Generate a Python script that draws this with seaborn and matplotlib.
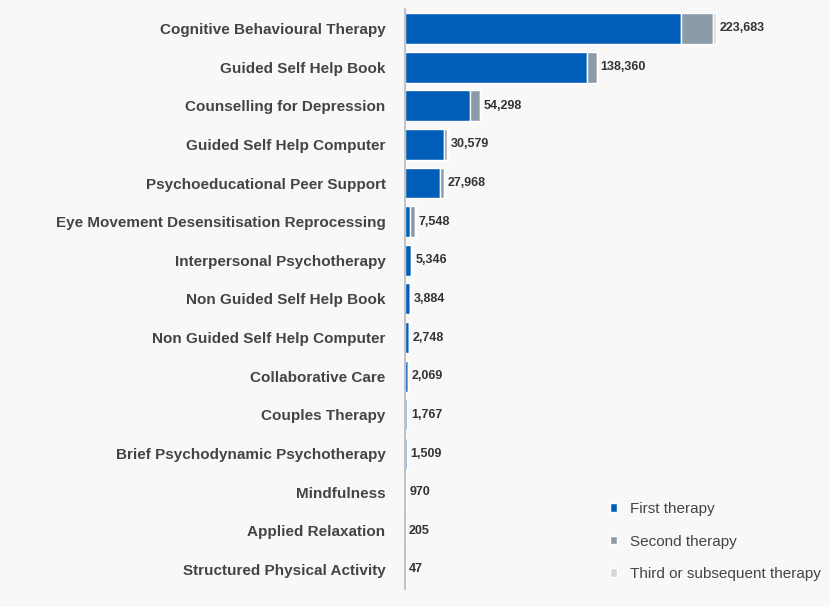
import matplotlib
matplotlib.use("Agg")
import matplotlib.pyplot as plt
import seaborn as sns
import numpy as np

therapies = [
    "Cognitive Behavioural Therapy", "Guided Self Help Book", "Counselling for Depression",
    "Guided Self Help Computer", "Psychoeducational Peer Support",
    "Eye Movement Desensitisation Reprocessing", "Interpersonal Psychotherapy",
    "Non Guided Self Help Book", "Non Guided Self Help Computer", "Collaborative Care",
    "Couples Therapy", "Brief Psychodynamic Psychotherapy", "Mindfulness",
    "Applied Relaxation", "Structured Physical Activity",
]
first = [198900, 131100, 46600, 28400, 25500, 3800, 4300, 3700, 2600, 2000, 1700, 1450, 900, 190, 44]
second = [22600, 7000, 7500, 2100, 2400, 3650, 1000, 170, 140, 60, 60, 55, 65, 14, 3]
totals = [223683, 138360, 54298, 30579, 27968, 7548, 5346, 3884, 2748, 2069, 1767, 1509, 970, 205, 47]
third = [t - a - b for t, a, b in zip(totals, first, second)]

sns.set_theme(style="white")
plt.rcParams['font.family'] = ['Arial', 'Liberation Sans', 'DejaVu Sans']

fig, ax = plt.subplots(figsize=(8.3, 6.07), dpi=100)
bg = "#f8f8f8"
fig.patch.set_facecolor(bg)
ax.set_facecolor(bg)

y = np.arange(len(therapies))
c1, c2, c3 = "#005EB8", "#8C9BA8", "#D3D8DC"
ax.barh(y, first, color=c1, height=0.8, label="First therapy")
ax.barh(y, second, left=first, color=c2, height=0.8, label="Second therapy")
left3 = np.array(first) + np.array(second)
ax.barh(y, third, left=left3, color=c3, height=0.8, label="Third or subsequent therapy")

for yi, t in zip(y, totals):
    ax.text(t + 2500, yi, f"{t:,}", va="center", ha="left", fontsize=9,
            fontweight="bold", color="#333333")

ax.set_yticks(y)
ax.set_yticklabels(therapies, fontsize=11, fontweight="bold", color="#444444")
ax.set_ylim(len(therapies) - 0.5, -0.5)
ax.set_xlim(0, 300000)
ax.set_xticks([])
for s in ["top", "right", "bottom"]:
    ax.spines[s].set_visible(False)
ax.spines["left"].set_color("#bbbbbb")
ax.tick_params(axis="y", length=0, pad=14)

ax.legend(loc="lower right", frameon=False, fontsize=11, handlelength=0.5,
          handleheight=0.5, labelspacing=1.2, bbox_to_anchor=(1.03, -0.01),
          labelcolor="#444444")

plt.subplots_adjust(left=0.488, right=0.99, top=0.985, bottom=0.03)
fig.savefig("out.png", dpi=100, facecolor=bg)
